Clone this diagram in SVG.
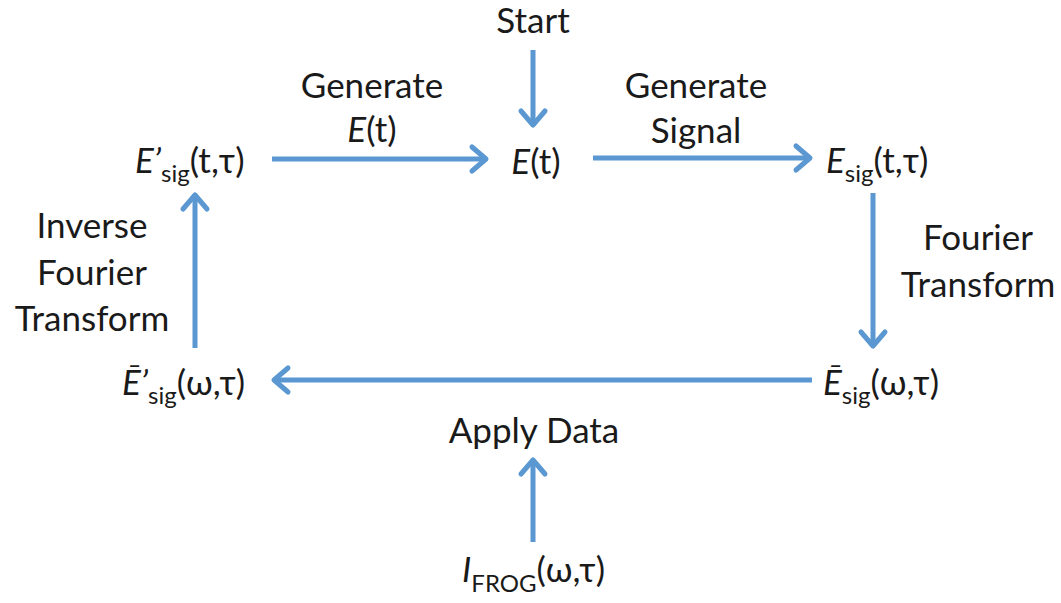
<svg xmlns="http://www.w3.org/2000/svg" width="1061" height="603" viewBox="0 0 1061 603">
  <defs>
    <marker id="head" markerUnits="userSpaceOnUse" markerWidth="40" markerHeight="40" viewBox="-20 -20 40 40" refX="0" refY="0" orient="auto">
      <path d="M -14 -12 L 0 0 L -14 12" fill="none" stroke="#5b97d1" stroke-width="5" stroke-linecap="round" stroke-linejoin="round"/>
    </marker>
    <style>
      text { font-family: Lato, "Open Sans", "Liberation Sans", sans-serif; font-size: 35px; fill: #1a1a1a; }
      .lbl { text-anchor: middle; }
      .it { font-style: italic; }
      .sub { font-size: 24px; }
      .conn line { stroke: #5b97d1; stroke-width: 5; marker-end: url(#head); }
    </style>
  </defs>
  <rect width="1061" height="603" fill="#ffffff"/>

  <!-- connectors -->
  <g id="connectors" class="conn">
    <line x1="533" y1="50" x2="533" y2="125"/>
    <line x1="272" y1="159" x2="486" y2="159"/>
    <line x1="593" y1="158" x2="810" y2="158"/>
    <line x1="873" y1="193" x2="873" y2="346"/>
    <line x1="812" y1="380" x2="274" y2="380"/>
    <line x1="195" y1="348" x2="195" y2="195"/>
    <line x1="533" y1="542" x2="533" y2="460"/>
  </g>

  <!-- edge labels -->
  <g id="labels">
    <text class="lbl" x="372" y="98">Generate</text>
    <text class="lbl" x="372" y="142"><tspan class="it">E</tspan>(t)</text>
    <text class="lbl" x="696" y="98">Generate</text>
    <text class="lbl" x="696" y="143">Signal</text>
    <text class="lbl" x="978" y="250">Fourier</text>
    <text class="lbl" x="978" y="297">Transform</text>
    <text class="lbl" x="92" y="238">Inverse</text>
    <text class="lbl" x="92" y="285">Fourier</text>
    <text class="lbl" x="92" y="331">Transform</text>
    <text class="lbl" x="534" y="443">Apply Data</text>
  </g>

  <!-- nodes -->
  <g id="start">
    <text class="lbl" x="533" y="33">Start</text>
  </g>
  <g id="e-t">
    <text class="lbl" x="536" y="174"><tspan class="it">E</tspan>(t)</text>
  </g>
  <g id="e-sig">
    <text x="826" y="173"><tspan class="it">E</tspan><tspan class="sub" dy="9">sig</tspan><tspan dy="-9">(t,τ)</tspan></text>
  </g>
  <g id="e-sig-freq">
    <text x="823" y="395"><tspan class="it">Ē</tspan><tspan class="sub" dy="9">sig</tspan><tspan dy="-9">(ω,τ)</tspan></text>
  </g>
  <g id="e-sig-prime-freq">
    <text x="122" y="395"><tspan class="it">Ē’</tspan><tspan class="sub" dy="9">sig</tspan><tspan dy="-9">(ω,τ)</tspan></text>
  </g>
  <g id="e-sig-prime">
    <text x="135" y="173"><tspan class="it">E’</tspan><tspan class="sub" dy="9">sig</tspan><tspan dy="-9">(t,τ)</tspan></text>
  </g>
  <g id="i-frog">
    <text x="462" y="582"><tspan class="it">I</tspan><tspan class="sub" dy="10">FROG</tspan><tspan dy="-10">(ω,τ)</tspan></text>
  </g>
</svg>
